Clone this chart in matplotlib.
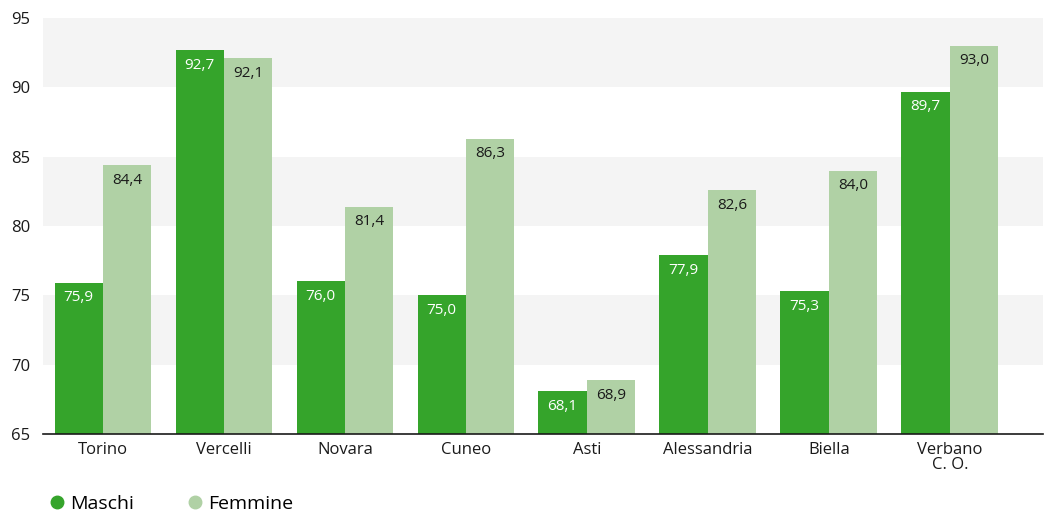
import matplotlib
matplotlib.use('Agg')
import matplotlib.pyplot as plt
import numpy as np

plt.rcParams['font.family'] = ['Open Sans', 'DejaVu Sans']

province = ['Torino', 'Vercelli', 'Novara', 'Cuneo', 'Asti', 'Alessandria', 'Biella', 'Verbano\nC. O.']
maschi = [75.9, 92.7, 76.0, 75.0, 68.1, 77.9, 75.3, 89.7]
femmine = [84.4, 92.1, 81.4, 86.3, 68.9, 82.6, 84.0, 93.0]

col_m = '#35a42b'
col_f = '#b0d1a5'

fig = plt.figure(figsize=(10.61, 5.16), dpi=100)
ax = fig.add_axes([0.0405, 0.159, 0.9425, 0.806])

x = np.arange(len(province))
w = 0.4

# bande grigie alternate
for lo in [70, 80, 90]:
    ax.axhspan(lo, lo + 5, color='#f4f4f4', zorder=0, lw=0)

b1 = ax.bar(x - w / 2, maschi, w, color=col_m, zorder=2, label='Maschi')
b2 = ax.bar(x + w / 2, femmine, w, color=col_f, zorder=2, label='Femmine')

for rect, v in zip(b1, maschi):
    ax.text(rect.get_x() + rect.get_width() / 2, v - 0.55, f'{v:.1f}'.replace('.', ','),
            ha='center', va='top', color='white', fontsize=11, zorder=3)
for rect, v in zip(b2, femmine):
    ax.text(rect.get_x() + rect.get_width() / 2, v - 0.55, f'{v:.1f}'.replace('.', ','),
            ha='center', va='top', color='#1a1a1a', fontsize=11, zorder=3)

ax.set_ylim(65, 95)
ax.set_xlim(-0.496, 7.77)
ax.set_yticks(range(65, 96, 5))
ax.set_xticks(x)
ax.set_xticklabels(province, linespacing=0.9)
ax.tick_params(axis='both', length=0, labelsize=12, colors='#1a1a1a')
ax.tick_params(axis='x', pad=6)
ax.tick_params(axis='y', pad=9)

for s in ['top', 'right', 'left']:
    ax.spines[s].set_visible(False)
ax.spines['bottom'].set_color('#1a1a1a')
ax.spines['bottom'].set_linewidth(1.2)
ax.spines['bottom'].set_zorder(4)

h1 = plt.Line2D([], [], marker='o', ls='', color=col_m, markersize=9)
h2 = plt.Line2D([], [], marker='o', ls='', color=col_f, markersize=9)
fig.legend([h1, h2], ['Maschi', 'Femmine'], loc='lower left', bbox_to_anchor=(0.028, -0.028),
           ncol=2, frameon=False, fontsize=14, handletextpad=0.2, columnspacing=2.6,
           handlelength=1.0)

plt.savefig('out.png', dpi=100)
